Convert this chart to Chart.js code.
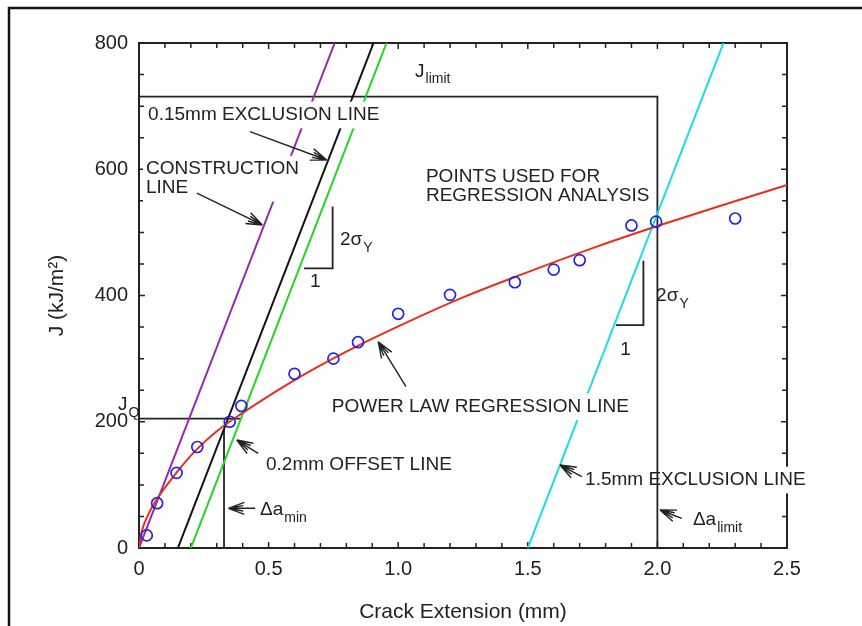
<!DOCTYPE html>
<html>
<head>
<meta charset="utf-8">
<script src="https://cdn.jsdelivr.net/npm/chart.js@4.4.1/dist/chart.umd.min.js"></script>
<style>
  html, body { margin: 0; padding: 0; background: #fff; }
</style>
</head>
<body>
<canvas id="myChart" width="862" height="626"></canvas>
<script>
// measured J-R points (crack extension in mm, J in kJ/m2)
const pointsX = [0.03, 0.07, 0.145, 0.225, 0.35, 0.395, 0.6, 0.75, 0.845, 1.0, 1.2, 1.45, 1.6, 1.7, 1.9, 1.995, 2.3];
const pointsJ = [20, 71, 119, 160, 200, 225, 276, 300, 326, 371, 401, 421, 441, 456, 511, 517, 522];

// power law regression line
const curveX = [0, 0.01, 0.03, 0.07, 0.15, 0.22, 0.3, 0.4, 0.6, 0.8, 1.0, 1.25, 1.5, 1.75, 2.0, 2.25, 2.5];
const curveJ = [0, 25, 48, 78, 122, 155, 185, 214, 266, 311, 351, 397, 437, 475, 510, 543, 575];

// blunting / exclusion lines (two end points each)
const constructionX = [0, 0.755];
const constructionJ = [0, 800];
const excl015X = [0.15, 0.905];
const excl015J = [0, 800];
const offset02X = [0.2, 0.955];
const offset02J = [0, 800];
const excl15X = [1.5, 2.255];
const excl15J = [0, 800];

// limit and qualification lines
const jLimitX = [0, 2.0, 2.0];
const jLimitJ = [715, 715, 0];
const jqX = [0, 0.395];
const jqJ = [205, 205];
const daMinX = [0.328, 0.328];
const daMinJ = [0, 188];

// slope triangles
const tri1X = [0.637, 0.747, 0.747];
const tri1J = [443, 443, 541];
const tri2X = [1.84, 1.946, 1.946];
const tri2J = [353, 353, 455];

const xTicks = [0, 0.5, 1.0, 1.5, 2.0, 2.5];
const yTicks = [0, 200, 400, 600, 800];

function pts(xs, ys) {
    return xs.map((x, i) => ({x: x, y: ys[i]}));
}

function lineSet(xs, ys, color, width) {
    return {
        type: 'line',
        data: pts(xs, ys),
        borderColor: color,
        borderWidth: width,
        pointRadius: 0,
        fill: false,
        tension: 0
    };
}

const FONT = '"Liberation Sans", Arial, Helvetica, sans-serif';
const INK = '#222';

function px(chart, x, y) {
    return [chart.scales.x.getPixelForValue(x), chart.scales.y.getPixelForValue(y)];
}

// text label, left aligned, vertically centred; optional white box behind
function label(ctx, lines, p, opts) {
    const size = (opts && opts.size) || 19;
    const gap = (opts && opts.gap) || 19;
    ctx.font = size + 'px ' + FONT;
    ctx.textBaseline = 'middle';
    ctx.textAlign = 'left';
    if (opts && opts.box) {
        let w = 0;
        lines.forEach(t => { w = Math.max(w, ctx.measureText(t).width); });
        ctx.fillStyle = '#fff';
        ctx.fillRect(p[0] - 3, p[1] - size * 0.6 - 2, w + 6, gap * (lines.length - 1) + size * 1.2 + 4);
    }
    ctx.fillStyle = INK;
    lines.forEach((t, i) => ctx.fillText(t, p[0], p[1] + i * gap));
}

function subLabel(ctx, main, sub, p) {
    ctx.font = '19px ' + FONT;
    ctx.textBaseline = 'middle';
    ctx.textAlign = 'left';
    ctx.fillStyle = INK;
    ctx.fillText(main, p[0], p[1]);
    const w = ctx.measureText(main).width;
    ctx.font = '14px ' + FONT;
    ctx.fillText(sub, p[0] + w + 1, p[1] + 8);
}

// open arrow head made of splayed strokes
function arrow(ctx, from, tip) {
    const a = Math.atan2(from[1] - tip[1], from[0] - tip[0]);
    ctx.strokeStyle = INK;
    ctx.lineWidth = 1.4;
    ctx.beginPath();
    ctx.moveTo(from[0], from[1]);
    ctx.lineTo(tip[0], tip[1]);
    [0.36, -0.36, 0.18, -0.18].forEach(d => {
        const len = Math.abs(d) > 0.25 ? 17 : 15;
        ctx.moveTo(tip[0], tip[1]);
        ctx.lineTo(tip[0] + len * Math.cos(a + d), tip[1] + len * Math.sin(a + d));
    });
    ctx.stroke();
}

const decor = {
    id: 'decor',
    beforeDraw(chart) {
        const ctx = chart.ctx;
        ctx.save();
        ctx.fillStyle = '#fff';
        ctx.fillRect(0, 0, chart.width, chart.height);
        // outer figure frame (top and left edge)
        ctx.strokeStyle = '#111';
        ctx.lineWidth = 2.5;
        ctx.beginPath();
        ctx.moveTo(9, chart.height);
        ctx.lineTo(9, 8);
        ctx.lineTo(chart.width, 8);
        ctx.stroke();
        ctx.restore();
    },
    beforeDatasetsDraw(chart) {
        const ctx = chart.ctx;
        const a = chart.chartArea;
        const xs = chart.scales.x, ys = chart.scales.y;
        ctx.save();
        ctx.strokeStyle = INK;
        ctx.lineWidth = 2;
        ctx.strokeRect(a.left, a.top, a.right - a.left, a.bottom - a.top);
        ctx.lineWidth = 1.5;
        ctx.beginPath();
        for (let i = 0; i <= 25; i++) {
            const p = xs.getPixelForValue(i / 10);
            const l = i % 5 === 0 ? 6 : 5;
            ctx.moveTo(p, a.bottom); ctx.lineTo(p, a.bottom - l);
            ctx.moveTo(p, a.top); ctx.lineTo(p, a.top + l);
        }
        for (let i = 0; i <= 16; i++) {
            const p = ys.getPixelForValue(i * 50);
            const l = i % 4 === 0 ? 6 : 5;
            ctx.moveTo(a.left, p); ctx.lineTo(a.left + l, p);
            ctx.moveTo(a.right, p); ctx.lineTo(a.right - l, p);
        }
        ctx.stroke();
        // this label sits under the limit line but hides the right frame
        label(ctx, ['1.5mm EXCLUSION LINE'], px(chart, 1.721, 107.7), {box: true});
        ctx.restore();
    },
    afterDatasetsDraw(chart) {
        const ctx = chart.ctx;
        ctx.save();
        label(ctx, ['0.15mm EXCLUSION LINE'], px(chart, 0.035, 686), {box: true});
        label(ctx, ['CONSTRUCTION', 'LINE'], px(chart, 0.027, 600), {box: true});
        label(ctx, ['POINTS USED FOR', 'REGRESSION ANALYSIS'], px(chart, 1.107, 587.7), {box: true});
        label(ctx, ['POWER LAW REGRESSION LINE'], px(chart, 0.744, 223.8), {box: true});
        label(ctx, ['0.2mm OFFSET LINE'], px(chart, 0.49, 131.5), {box: true});
        label(ctx, ['1'], px(chart, 0.66, 421.4));
        label(ctx, ['1'], px(chart, 1.857, 313.7));
        subLabel(ctx, 'J', 'limit', px(chart, 1.065, 754.8));
        subLabel(ctx, 'J', 'Q', px(chart, -0.081, 226.5));
        subLabel(ctx, '\u0394a', 'min', px(chart, 0.467, 60.2));
        subLabel(ctx, '\u0394a', 'limit', px(chart, 2.137, 44.4));
        subLabel(ctx, '2\u03c3', 'Y', px(chart, 0.775, 488));
        subLabel(ctx, '2\u03c3', 'Y', px(chart, 1.995, 399));

        arrow(ctx, px(chart, 0.428, 659.5), px(chart, 0.724, 614.7));
        arrow(ctx, px(chart, 0.223, 562), px(chart, 0.476, 511.7));
        arrow(ctx, px(chart, 1.03, 255.5), px(chart, 0.923, 326.8));
        arrow(ctx, px(chart, 0.46, 150), px(chart, 0.377, 171));
        arrow(ctx, px(chart, 0.448, 62.9), px(chart, 0.345, 62.9));
        arrow(ctx, px(chart, 1.708, 113), px(chart, 1.624, 131.5));
        arrow(ctx, px(chart, 2.094, 47), px(chart, 2.01, 60.2));
        ctx.restore();
    }
};

function createChart() {
    const ctx = document.getElementById('myChart').getContext('2d');
    const curve = lineSet(curveX, curveJ, 'rgb(236,45,25)', 2);
    curve.cubicInterpolationMode = 'monotone';
    const chart = new Chart(ctx, {
        type: 'scatter',
        data: {
            datasets: [
                {
                    type: 'scatter',
                    data: pts(pointsX, pointsJ),
                    borderColor: 'rgb(35,35,230)',
                    backgroundColor: 'rgba(0,0,0,0)',
                    borderWidth: 1.7,
                    pointRadius: 5.5,
                    pointStyle: 'circle'
                },
                curve,
                lineSet(constructionX, constructionJ, 'rgb(150,40,175)', 2),
                lineSet(excl015X, excl015J, '#111', 2),
                lineSet(offset02X, offset02J, 'rgb(30,215,30)', 2),
                lineSet(excl15X, excl15J, 'rgb(25,220,230)', 2),
                lineSet(jLimitX, jLimitJ, '#222', 1.8),
                lineSet(jqX, jqJ, '#222', 1.8),
                lineSet(daMinX, daMinJ, '#222', 1.8),
                lineSet(tri1X, tri1J, '#222', 1.8),
                lineSet(tri2X, tri2J, '#222', 1.8)
            ]
        },
        options: {
            responsive: false,
            animation: false,
            devicePixelRatio: 1,
            layout: { padding: { left: 0, right: 75, top: 43, bottom: 0 } },
            plugins: { legend: { display: false }, tooltip: { enabled: false } },
            scales: {
                x: {
                    type: 'linear',
                    min: 0,
                    max: 2.5,
                    afterFit(scale) { scale.height = 78; },
                    afterBuildTicks(scale) { scale.ticks = xTicks.map(v => ({value: v})); },
                    grid: { display: false, drawTicks: false },
                    border: { display: false },
                    ticks: {
                        padding: 9,
                        color: INK,
                        font: { family: FONT, size: 20 },
                        callback: v => v === 0 ? '0' : v.toFixed(1)
                    },
                    title: {
                        display: true,
                        text: 'Crack Extension (mm)',
                        color: INK,
                        font: { family: FONT, size: 21 },
                        padding: { top: 0, bottom: 1 }
                    }
                },
                y: {
                    type: 'linear',
                    min: 0,
                    max: 800,
                    afterFit(scale) { scale.width = 139; },
                    afterBuildTicks(scale) { scale.ticks = yTicks.map(v => ({value: v})); },
                    grid: { display: false, drawTicks: false },
                    border: { display: false },
                    ticks: {
                        padding: 11,
                        color: INK,
                        font: { family: FONT, size: 20 }
                    },
                    title: {
                        display: true,
                        text: 'J (kJ/m\u00b2)',
                        color: INK,
                        font: { family: FONT, size: 21 },
                        padding: { top: 45, bottom: 0 }
                    }
                }
            }
        },
        plugins: [decor]
    });
}

document.addEventListener("DOMContentLoaded", function() {
    createChart();
});
</script>
</body>
</html>
